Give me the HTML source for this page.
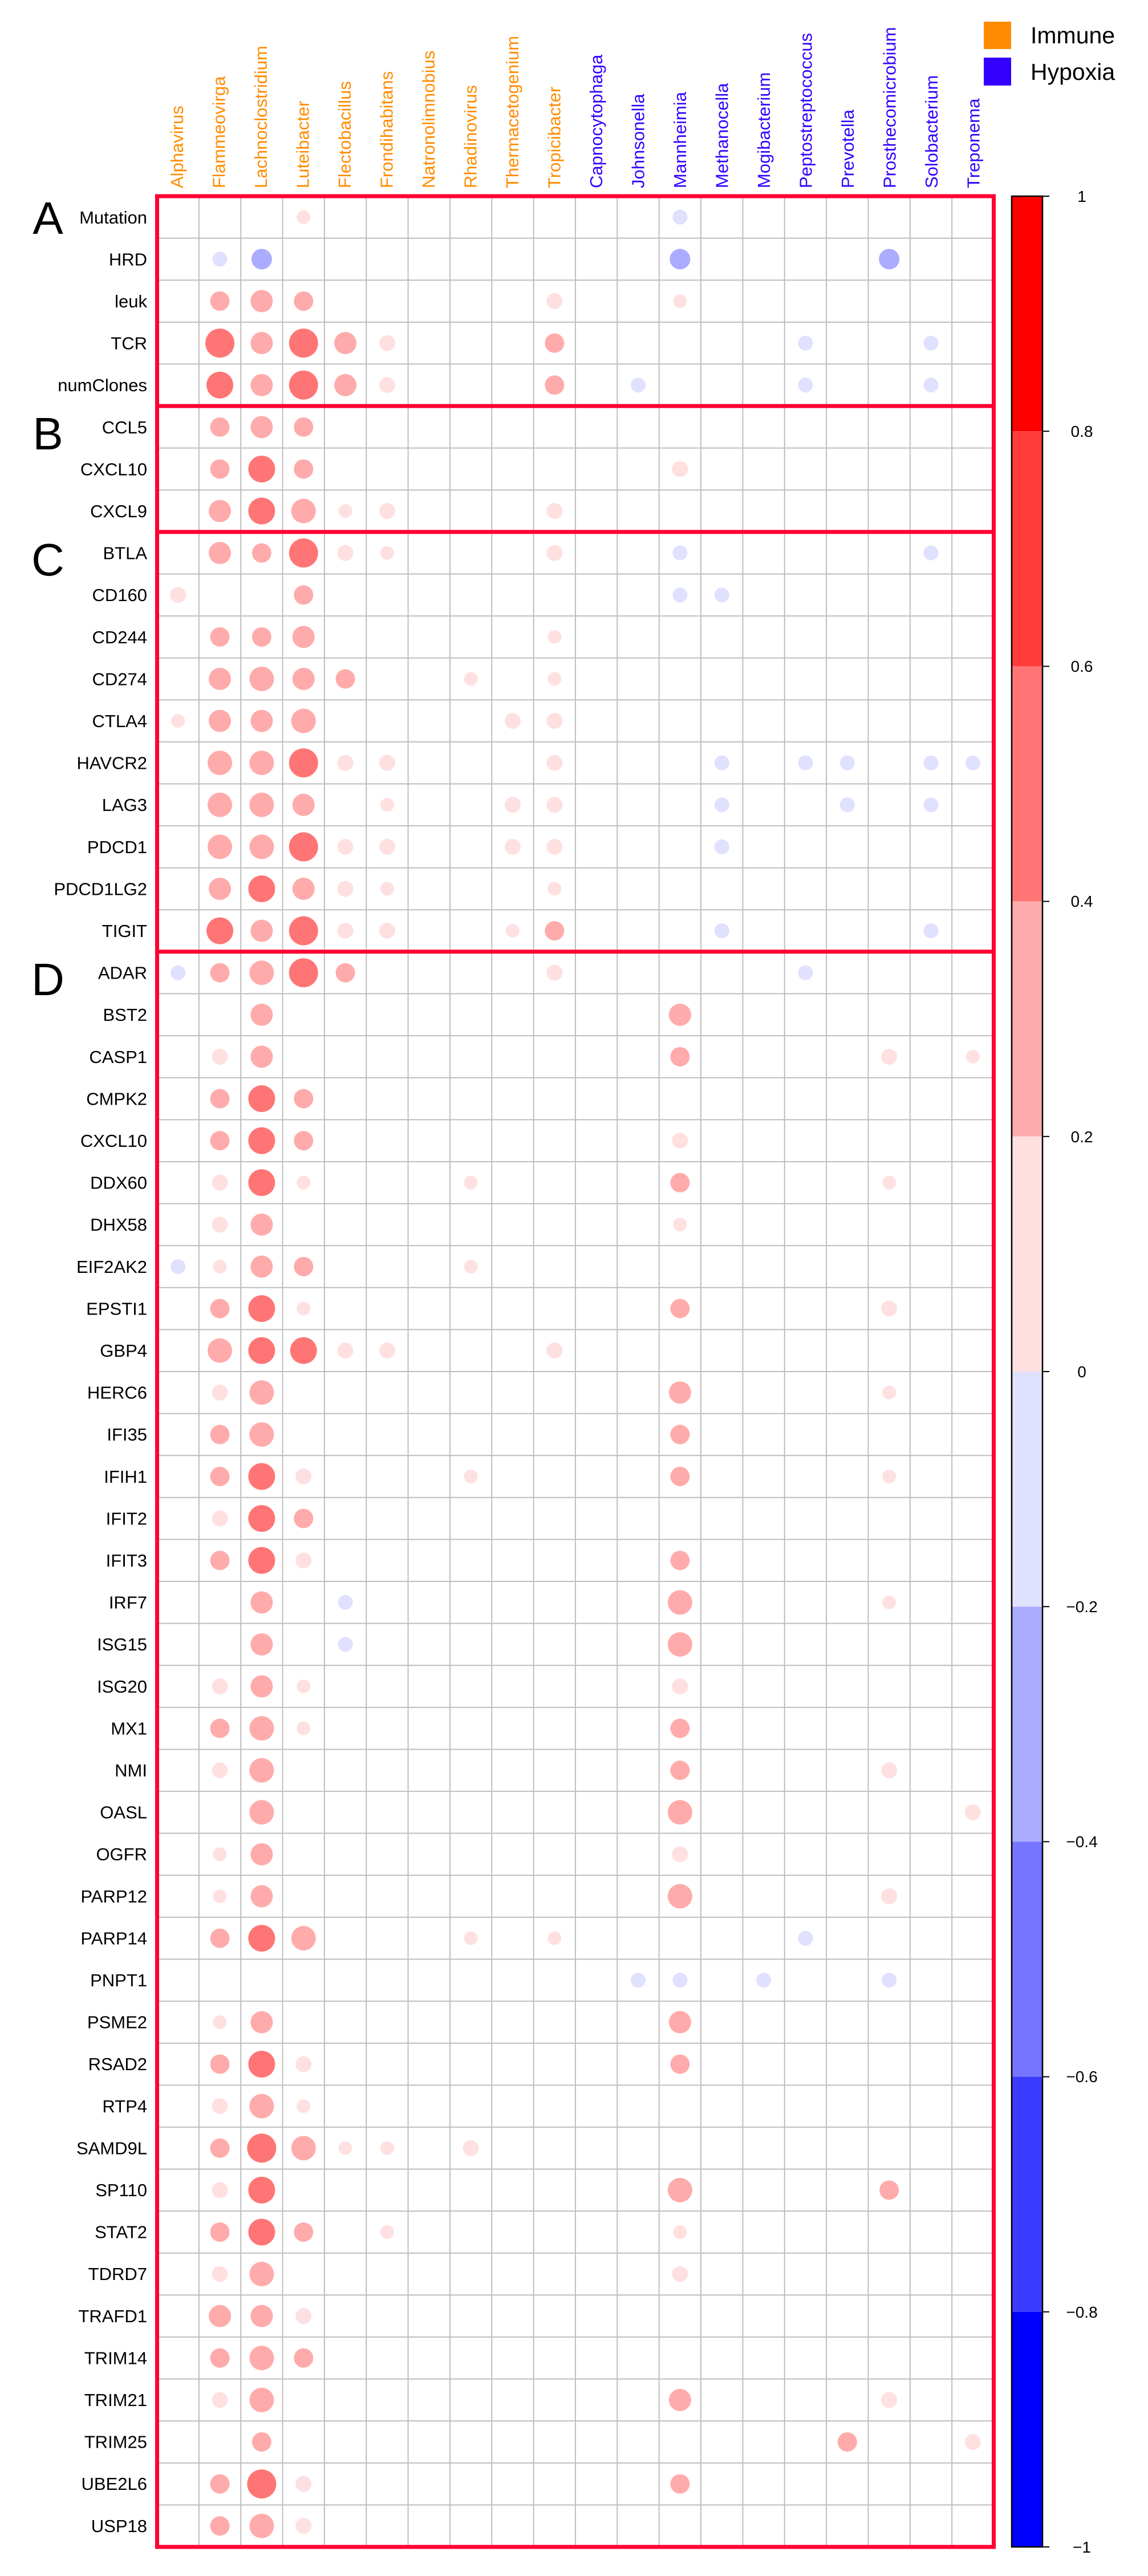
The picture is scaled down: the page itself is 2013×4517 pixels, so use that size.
<!DOCTYPE html>
<html><head><meta charset="utf-8">
<style>
html,body{margin:0;padding:0;background:#fff;}
svg{display:block;}
text{font-family:"Liberation Sans",Arial,sans-serif;}
</style></head>
<body>
<svg id="s" width="2013" height="4517" viewBox="0 0 2013 4517" xmlns="http://www.w3.org/2000/svg">
<rect width="2013" height="4517" fill="#fff"/>
<g id="grid"></g>
<g id="circ"></g>
<!-- section borders -->
<g fill="none" stroke="#FF0033" stroke-width="7">
<rect x="275.5" y="344" width="1467" height="4122"/>
<line x1="275.5" y1="712" x2="1742.5" y2="712"/>
<line x1="275.5" y1="932.8" x2="1742.5" y2="932.8"/>
<line x1="275.5" y1="1668.8" x2="1742.5" y2="1668.8"/>
</g>
<!-- legend -->
<rect x="1725" y="38" width="48" height="48" fill="#FF8C00"/>
<rect x="1725" y="101" width="48" height="49" fill="#3300FF"/>
<text x="1807" y="76" font-size="41">Immune</text>
<text x="1807" y="140" font-size="41">Hypoxia</text>
<!-- section letters -->
<g font-size="80" text-anchor="middle">
<text x="84" y="410">A</text>
<text x="84" y="788">B</text>
<text x="84" y="1009">C</text>
<text x="84" y="1745">D</text>
</g>
<!-- column labels -->
<g font-size="31" fill="#FF8C00">
<text transform="translate(320.75,330) rotate(-90)">Alphavirus</text>
<text transform="translate(394.25,330) rotate(-90)">Flammeovirga</text>
<text transform="translate(467.75,330) rotate(-90)">Lachnoclostridium</text>
<text transform="translate(541.25,330) rotate(-90)">Luteibacter</text>
<text transform="translate(614.75,330) rotate(-90)">Flectobacillus</text>
<text transform="translate(688.25,330) rotate(-90)">Frondihabitans</text>
<text transform="translate(761.75,330) rotate(-90)">Natronolimnobius</text>
<text transform="translate(835.25,330) rotate(-90)">Rhadinovirus</text>
<text transform="translate(908.75,330) rotate(-90)">Thermacetogenium</text>
<text transform="translate(982.25,330) rotate(-90)">Tropicibacter</text>
</g>
<g font-size="31" fill="#3300FF">
<text transform="translate(1055.75,330) rotate(-90)">Capnocytophaga</text>
<text transform="translate(1129.25,330) rotate(-90)">Johnsonella</text>
<text transform="translate(1202.75,330) rotate(-90)">Mannheimia</text>
<text transform="translate(1276.25,330) rotate(-90)">Methanocella</text>
<text transform="translate(1349.75,330) rotate(-90)">Mogibacterium</text>
<text transform="translate(1423.25,330) rotate(-90)">Peptostreptococcus</text>
<text transform="translate(1496.75,330) rotate(-90)">Prevotella</text>
<text transform="translate(1570.25,330) rotate(-90)">Prosthecomicrobium</text>
<text transform="translate(1643.75,330) rotate(-90)">Solobacterium</text>
<text transform="translate(1717.25,330) rotate(-90)">Treponema</text>
</g>
<!-- row labels -->
<g font-size="31" text-anchor="end">
<text x="258" y="391.8">Mutation</text>
<text x="258" y="465.4">HRD</text>
<text x="258" y="539">leuk</text>
<text x="258" y="612.6">TCR</text>
<text x="258" y="686.2">numClones</text>
<text x="258" y="759.8">CCL5</text>
<text x="258" y="833.4">CXCL10</text>
<text x="258" y="907">CXCL9</text>
<text x="258" y="980.6">BTLA</text>
<text x="258" y="1054.2">CD160</text>
<text x="258" y="1127.8">CD244</text>
<text x="258" y="1201.4">CD274</text>
<text x="258" y="1275">CTLA4</text>
<text x="258" y="1348.6">HAVCR2</text>
<text x="258" y="1422.2">LAG3</text>
<text x="258" y="1495.8">PDCD1</text>
<text x="258" y="1569.4">PDCD1LG2</text>
<text x="258" y="1643">TIGIT</text>
<text x="258" y="1716.6">ADAR</text>
<text x="258" y="1790.2">BST2</text>
<text x="258" y="1863.8">CASP1</text>
<text x="258" y="1937.4">CMPK2</text>
<text x="258" y="2011">CXCL10</text>
<text x="258" y="2084.6">DDX60</text>
<text x="258" y="2158.2">DHX58</text>
<text x="258" y="2231.8">EIF2AK2</text>
<text x="258" y="2305.4">EPSTI1</text>
<text x="258" y="2379">GBP4</text>
<text x="258" y="2452.6">HERC6</text>
<text x="258" y="2526.2">IFI35</text>
<text x="258" y="2599.8">IFIH1</text>
<text x="258" y="2673.4">IFIT2</text>
<text x="258" y="2747">IFIT3</text>
<text x="258" y="2820.6">IRF7</text>
<text x="258" y="2894.2">ISG15</text>
<text x="258" y="2967.8">ISG20</text>
<text x="258" y="3041.4">MX1</text>
<text x="258" y="3115">NMI</text>
<text x="258" y="3188.6">OASL</text>
<text x="258" y="3262.2">OGFR</text>
<text x="258" y="3335.8">PARP12</text>
<text x="258" y="3409.4">PARP14</text>
<text x="258" y="3483">PNPT1</text>
<text x="258" y="3556.6">PSME2</text>
<text x="258" y="3630.2">RSAD2</text>
<text x="258" y="3703.8">RTP4</text>
<text x="258" y="3777.4">SAMD9L</text>
<text x="258" y="3851">SP110</text>
<text x="258" y="3924.6">STAT2</text>
<text x="258" y="3998.2">TDRD7</text>
<text x="258" y="4071.8">TRAFD1</text>
<text x="258" y="4145.4">TRIM14</text>
<text x="258" y="4219">TRIM21</text>
<text x="258" y="4292.6">TRIM25</text>
<text x="258" y="4366.2">UBE2L6</text>
<text x="258" y="4439.8">USP18</text>
</g>
<!-- colorbar -->
<g>
<rect x="1774" y="344" width="54" height="412.2" fill="#FF0000"/>
<rect x="1774" y="756.2" width="54" height="412.2" fill="#FF3B3B"/>
<rect x="1774" y="1168.4" width="54" height="412.2" fill="#FF7575"/>
<rect x="1774" y="1580.6" width="54" height="412.2" fill="#FFABAB"/>
<rect x="1774" y="1992.8" width="54" height="412.2" fill="#FFE0E0"/>
<rect x="1774" y="2405" width="54" height="412.2" fill="#E0E0FF"/>
<rect x="1774" y="2817.2" width="54" height="412.2" fill="#ABABFF"/>
<rect x="1774" y="3229.4" width="54" height="412.2" fill="#7575FF"/>
<rect x="1774" y="3641.6" width="54" height="412.2" fill="#3B3BFF"/>
<rect x="1774" y="4053.8" width="54" height="412.2" fill="#0000FF"/>
<rect x="1774" y="344" width="54" height="4122" fill="none" stroke="#000" stroke-width="2.5"/>
<g stroke="#000" stroke-width="2">
<line x1="1828" y1="344" x2="1840" y2="344"/>
<line x1="1828" y1="756.2" x2="1840" y2="756.2"/>
<line x1="1828" y1="1168.4" x2="1840" y2="1168.4"/>
<line x1="1828" y1="1580.6" x2="1840" y2="1580.6"/>
<line x1="1828" y1="1992.8" x2="1840" y2="1992.8"/>
<line x1="1828" y1="2405" x2="1840" y2="2405"/>
<line x1="1828" y1="2817.2" x2="1840" y2="2817.2"/>
<line x1="1828" y1="3229.4" x2="1840" y2="3229.4"/>
<line x1="1828" y1="3641.6" x2="1840" y2="3641.6"/>
<line x1="1828" y1="4053.8" x2="1840" y2="4053.8"/>
<line x1="1828" y1="4466" x2="1840" y2="4466"/>
</g>
<g font-size="28" text-anchor="middle">
<text x="1897" y="354">1</text>
<text x="1897" y="766">0.8</text>
<text x="1897" y="1178">0.6</text>
<text x="1897" y="1590">0.4</text>
<text x="1897" y="2003">0.2</text>
<text x="1897" y="2415">0</text>
<text x="1897" y="2827">−0.2</text>
<text x="1897" y="3239">−0.4</text>
<text x="1897" y="3651">−0.6</text>
<text x="1897" y="4064">−0.8</text>
<text x="1897" y="4476">−1</text>
</g>
</g>
</svg>
<script>
(function(){
var NS="http://www.w3.org/2000/svg";
var x0=275.5,y0=344,cw=73.35,rh=73.607;
var g=document.getElementById("grid");
function el(t,a,p){var e=document.createElementNS(NS,t);for(var k in a)e.setAttribute(k,a[k]);p.appendChild(e);return e;}
for(var j=1;j<20;j++){var x=x0+cw*j;el("line",{x1:x,y1:y0,x2:x,y2:4466,stroke:"#BEBEBE","stroke-width":2},g);}
for(var i=1;i<56;i++){var y=y0+rh*i;el("line",{x1:x0,y1:y,x2:x0+cw*20,y2:y,stroke:"#BEBEBE","stroke-width":2},g);}
var rows=[
{3:'a',12:'b'},
{1:'b',2:'B',12:'B',17:'B'},
{1:'p',2:'m',3:'p',9:'l',12:'a'},
{1:'D',2:'m',3:'D',4:'m',5:'l',9:'p',15:'b',18:'b'},
{1:'d',2:'m',3:'D',4:'m',5:'l',9:'p',11:'b',15:'b',18:'b'},
{1:'p',2:'m',3:'p'},
{1:'p',2:'d',3:'p',12:'l'},
{1:'m',2:'d',3:'M',4:'a',5:'l',9:'l'},
{1:'m',2:'p',3:'D',4:'l',5:'a',9:'l',12:'b',18:'b'},
{0:'l',3:'p',12:'b',13:'b'},
{1:'p',2:'p',3:'m',9:'a'},
{1:'m',2:'M',3:'m',4:'p',7:'a',9:'a'},
{0:'a',1:'m',2:'m',3:'M',8:'l',9:'l'},
{1:'M',2:'M',3:'D',4:'l',5:'l',9:'l',13:'b',15:'b',16:'b',18:'b',19:'b'},
{1:'M',2:'M',3:'m',5:'a',8:'l',9:'l',13:'b',16:'b',18:'b'},
{1:'M',2:'M',3:'D',4:'l',5:'l',8:'l',9:'l',13:'b'},
{1:'m',2:'d',3:'m',4:'l',5:'a',9:'a'},
{1:'d',2:'m',3:'D',4:'l',5:'l',8:'a',9:'p',13:'b',18:'b'},
{0:'b',1:'p',2:'M',3:'D',4:'p',9:'l',15:'b'},
{2:'m',12:'m'},
{1:'l',2:'m',12:'p',17:'l',19:'a'},
{1:'p',2:'d',3:'p'},
{1:'p',2:'d',3:'p',12:'l'},
{1:'l',2:'d',3:'a',7:'a',12:'p',17:'a'},
{1:'l',2:'m',12:'a'},
{0:'b',1:'a',2:'m',3:'p',7:'a'},
{1:'p',2:'d',3:'a',12:'p',17:'l'},
{1:'M',2:'d',3:'d',4:'l',5:'l',9:'l'},
{1:'l',2:'M',12:'m',17:'a'},
{1:'p',2:'M',12:'p'},
{1:'p',2:'d',3:'l',7:'a',12:'p',17:'a'},
{1:'l',2:'d',3:'p'},
{1:'p',2:'d',3:'l',12:'p'},
{2:'m',4:'b',12:'M',17:'a'},
{2:'m',4:'b',12:'M'},
{1:'l',2:'m',3:'a',12:'l'},
{1:'p',2:'M',3:'a',12:'p'},
{1:'l',2:'M',12:'p',17:'l'},
{2:'M',12:'M',19:'l'},
{1:'a',2:'m',12:'l'},
{1:'a',2:'m',12:'M',17:'l'},
{1:'p',2:'d',3:'M',7:'a',9:'a',15:'b'},
{11:'b',12:'b',14:'b',17:'b'},
{1:'a',2:'m',12:'m'},
{1:'p',2:'d',3:'l',12:'p'},
{1:'l',2:'M',3:'a'},
{1:'p',2:'D',3:'M',4:'a',5:'a',7:'l'},
{1:'l',2:'d',12:'M',17:'p'},
{1:'p',2:'d',3:'p',5:'a',12:'a'},
{1:'l',2:'M',12:'l'},
{1:'m',2:'m',3:'l'},
{1:'p',2:'M',3:'p'},
{1:'l',2:'M',12:'m',17:'l'},
{2:'p',16:'p',19:'l'},
{1:'p',2:'D',3:'l',12:'p'},
{1:'p',2:'M',3:'l'}
];
var S={a:[24,'#FFE0E0'],l:[28,'#FFE0E0'],p:[34,'#FFABAB'],m:[39,'#FFABAB'],M:[43,'#FFABAB'],d:[47,'#FF7575'],D:[51,'#FF7575'],b:[26,'#E0E0FF'],B:[36,'#ABABFF']};
var c=document.getElementById("circ");
for(var i=0;i<rows.length;i++){for(var k in rows[i]){var s=S[rows[i][k]];
el("circle",{cx:x0+cw*(+k+0.5),cy:y0+rh*(i+0.5),r:s[0]/2,fill:s[1]},c);}}
})();
</script>
</body></html>
